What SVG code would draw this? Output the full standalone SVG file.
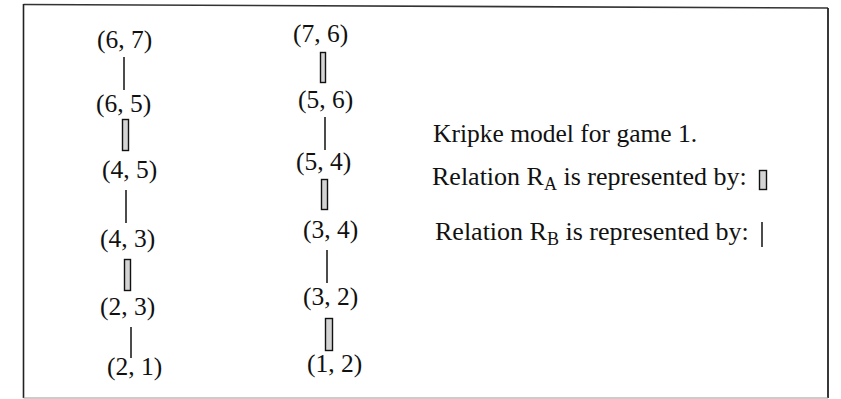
<svg xmlns="http://www.w3.org/2000/svg" width="841" height="399" viewBox="0 0 841 399">
<style>
  text { font-family: "Liberation Serif", "Times New Roman", serif; font-size: 25.5px; fill: #111; }
  .rel { font-size: 26px; }
  .sub { font-size: 18px; }
  .ra { fill: #d4d4d4; stroke: #111; stroke-width: 1.4; }
  .rb { stroke: #111; stroke-width: 1.5; fill: none; }
</style>
<rect width="841" height="399" fill="#fff"/>
<g id="frame" fill="none">
  <line x1="23.5" y1="4.5" x2="828" y2="8" stroke="#333" stroke-width="1.6"/>
  <line x1="23.5" y1="4" x2="23.5" y2="398" stroke="#222" stroke-width="1.6"/>
  <line x1="828" y1="8" x2="828" y2="398" stroke="#222" stroke-width="1.8"/>
  <line x1="23.5" y1="398" x2="828" y2="398" stroke="#999" stroke-width="1.2"/>
</g>
<g id="connectors">
  <line class="rb" x1="124" y1="57" x2="124" y2="90"/>
  <rect class="ra" x="122.5" y="119.5" width="6" height="31"/>
  <line class="rb" x1="126" y1="190" x2="126" y2="223"/>
  <rect class="ra" x="124.5" y="259.5" width="6" height="31"/>
  <line class="rb" x1="131" y1="327" x2="131" y2="358"/>
  <rect class="ra" x="320.5" y="52.5" width="5" height="30"/>
  <line class="rb" x1="325" y1="117" x2="325" y2="150"/>
  <rect class="ra" x="321.5" y="179.5" width="6" height="30"/>
  <line class="rb" x1="327" y1="250" x2="327" y2="283"/>
  <rect class="ra" x="325.5" y="318.5" width="7" height="32"/>
</g>
<g id="n67"><text x="97" y="48">(6, 7)</text></g>
<g id="n65"><text x="96" y="112">(6, 5)</text></g>
<g id="n45"><text x="102" y="178">(4, 5)</text></g>
<g id="n43"><text x="100" y="247">(4, 3)</text></g>
<g id="n23"><text x="100" y="315">(2, 3)</text></g>
<g id="n21"><text x="107" y="375">(2, 1)</text></g>
<g id="n76"><text x="293" y="42">(7, 6)</text></g>
<g id="n56"><text x="298" y="108">(5, 6)</text></g>
<g id="n54"><text x="296" y="170">(5, 4)</text></g>
<g id="n34"><text x="303" y="238">(3, 4)</text></g>
<g id="n32"><text x="303" y="305">(3, 2)</text></g>
<g id="n12"><text x="307" y="372">(1, 2)</text></g>
<g id="legend">
  <text x="433" y="142">Kripke model for game 1.</text>
  <text class="rel" x="432" y="185">Relation R<tspan class="sub" dy="5">A</tspan><tspan dy="-5"> is represented by:</tspan></text>
  <rect class="ra" x="759.5" y="170.5" width="7" height="19"/>
  <text class="rel" x="435" y="240">Relation R<tspan class="sub" dy="5">B</tspan><tspan dy="-5"> is represented by:</tspan></text>
  <line class="rb" x1="762" y1="222" x2="762" y2="247"/>
</g>
</svg>
